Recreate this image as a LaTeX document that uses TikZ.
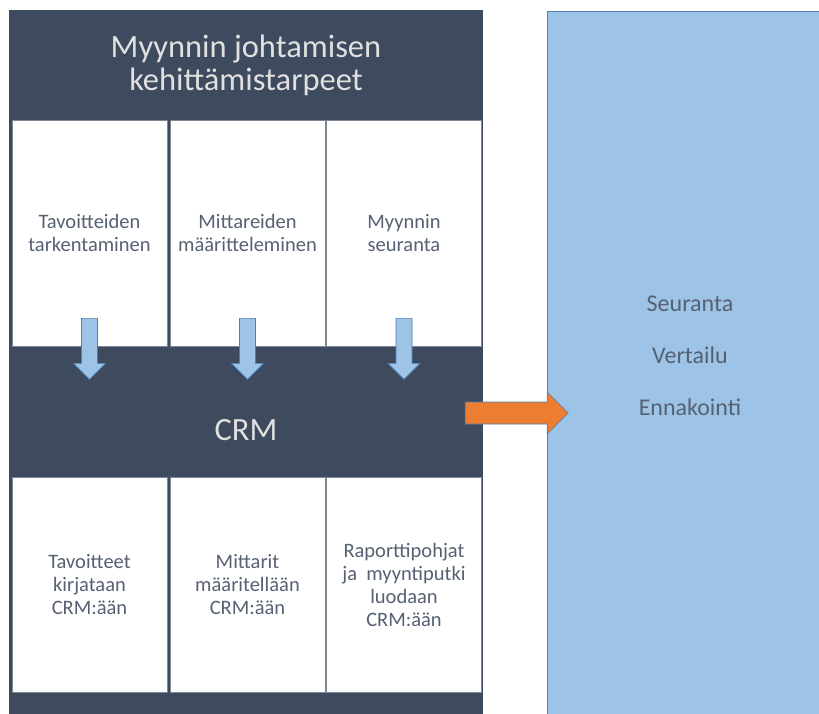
\documentclass[tikz,border=0pt]{standalone}
\usepackage{fontspec}
\setmainfont{Carlito}
\usetikzlibrary{calc}
\definecolor{navy}{HTML}{3E4A5D}
\definecolor{cellline}{HTML}{7D8796}
\definecolor{lightblue}{HTML}{9DC3E6}
\definecolor{blueline}{HTML}{4F7FB4}
\definecolor{orangearr}{HTML}{ED7D31}
\definecolor{celltext}{HTML}{566173}

\begin{document}
\begin{tikzpicture}[x=1pt,y=-1pt,
  cell/.style={fill=white,draw=cellline,line width=0.8pt,minimum width=155pt,
    inner sep=0pt,align=center,text=celltext,font=\fontsize{20.5}{23}\selectfont},
  band/.style={minimum width=474pt,inner sep=0pt,align=center,text=white!88!black,
    font=\fontsize{32.5}{33}\selectfont},
  downarrow/.style={fill=lightblue,draw=blueline,line width=0.6pt},
  sidearrow/.style={fill=orangearr,draw=blueline,line width=0.6pt}]
  \useasboundingbox (0,0) rectangle (819,714);
  \fill[navy] (9,10) rectangle (483,720);
  \node[band,minimum height=110pt] (head) at (246,65) {Myynnin johtamisen\\kehittämistarpeet};
  \node[band] (crm) at (246,430) {CRM};

  \node[cell,minimum height=226pt] (t1) at (89.5,233) {Tavoitteiden\\tarkentaminen};
  \node[cell,minimum height=226pt] (t2) at (247.5,233) {Mittareiden\\määritteleminen};
  \node[cell,minimum height=226pt] (t3) at (404,233) {Myynnin\\seuranta};
  \node[cell,minimum height=215pt] (c1) at (89.5,584.5) {Tavoitteet\\kirjataan\\CRM:ään};
  \node[cell,minimum height=215pt] (c2) at (247.5,584.5) {Mittarit\\määritellään\\CRM:ään};
  \node[cell,minimum height=215pt] (c3) at (404,584.5) {Raporttipohjat\\ja \ myyntiputki\\luodaan\\CRM:ään};

  \node[fill=lightblue,draw=blueline,line width=0.8pt,anchor=north west,
    minimum width=280pt,minimum height=710pt] (res) at (547,11) {};
  \node[align=center,text=celltext,font=\fontsize{24}{52}\selectfont] (resl) at (690,356)
    {Seuranta\\Vertailu\\Ennakointi};

  \foreach \c in {t1,t2,t3}
    \draw[downarrow] (\c.south) ++(-8,-28) -- ++(16,0) -- ++(0,45) -- ++(8,0)
      -- ++(-16,16) -- ++(-16,-16) -- ++(8,0) -- cycle;
  \draw[sidearrow] (crm.east) ++(-18,-28) -- ++(82,0) -- ++(0,-10) -- ++(21,21)
    -- ++(-21,21) -- ++(0,-10) -- ++(-82,0) -- cycle;
\end{tikzpicture}
\end{document}
